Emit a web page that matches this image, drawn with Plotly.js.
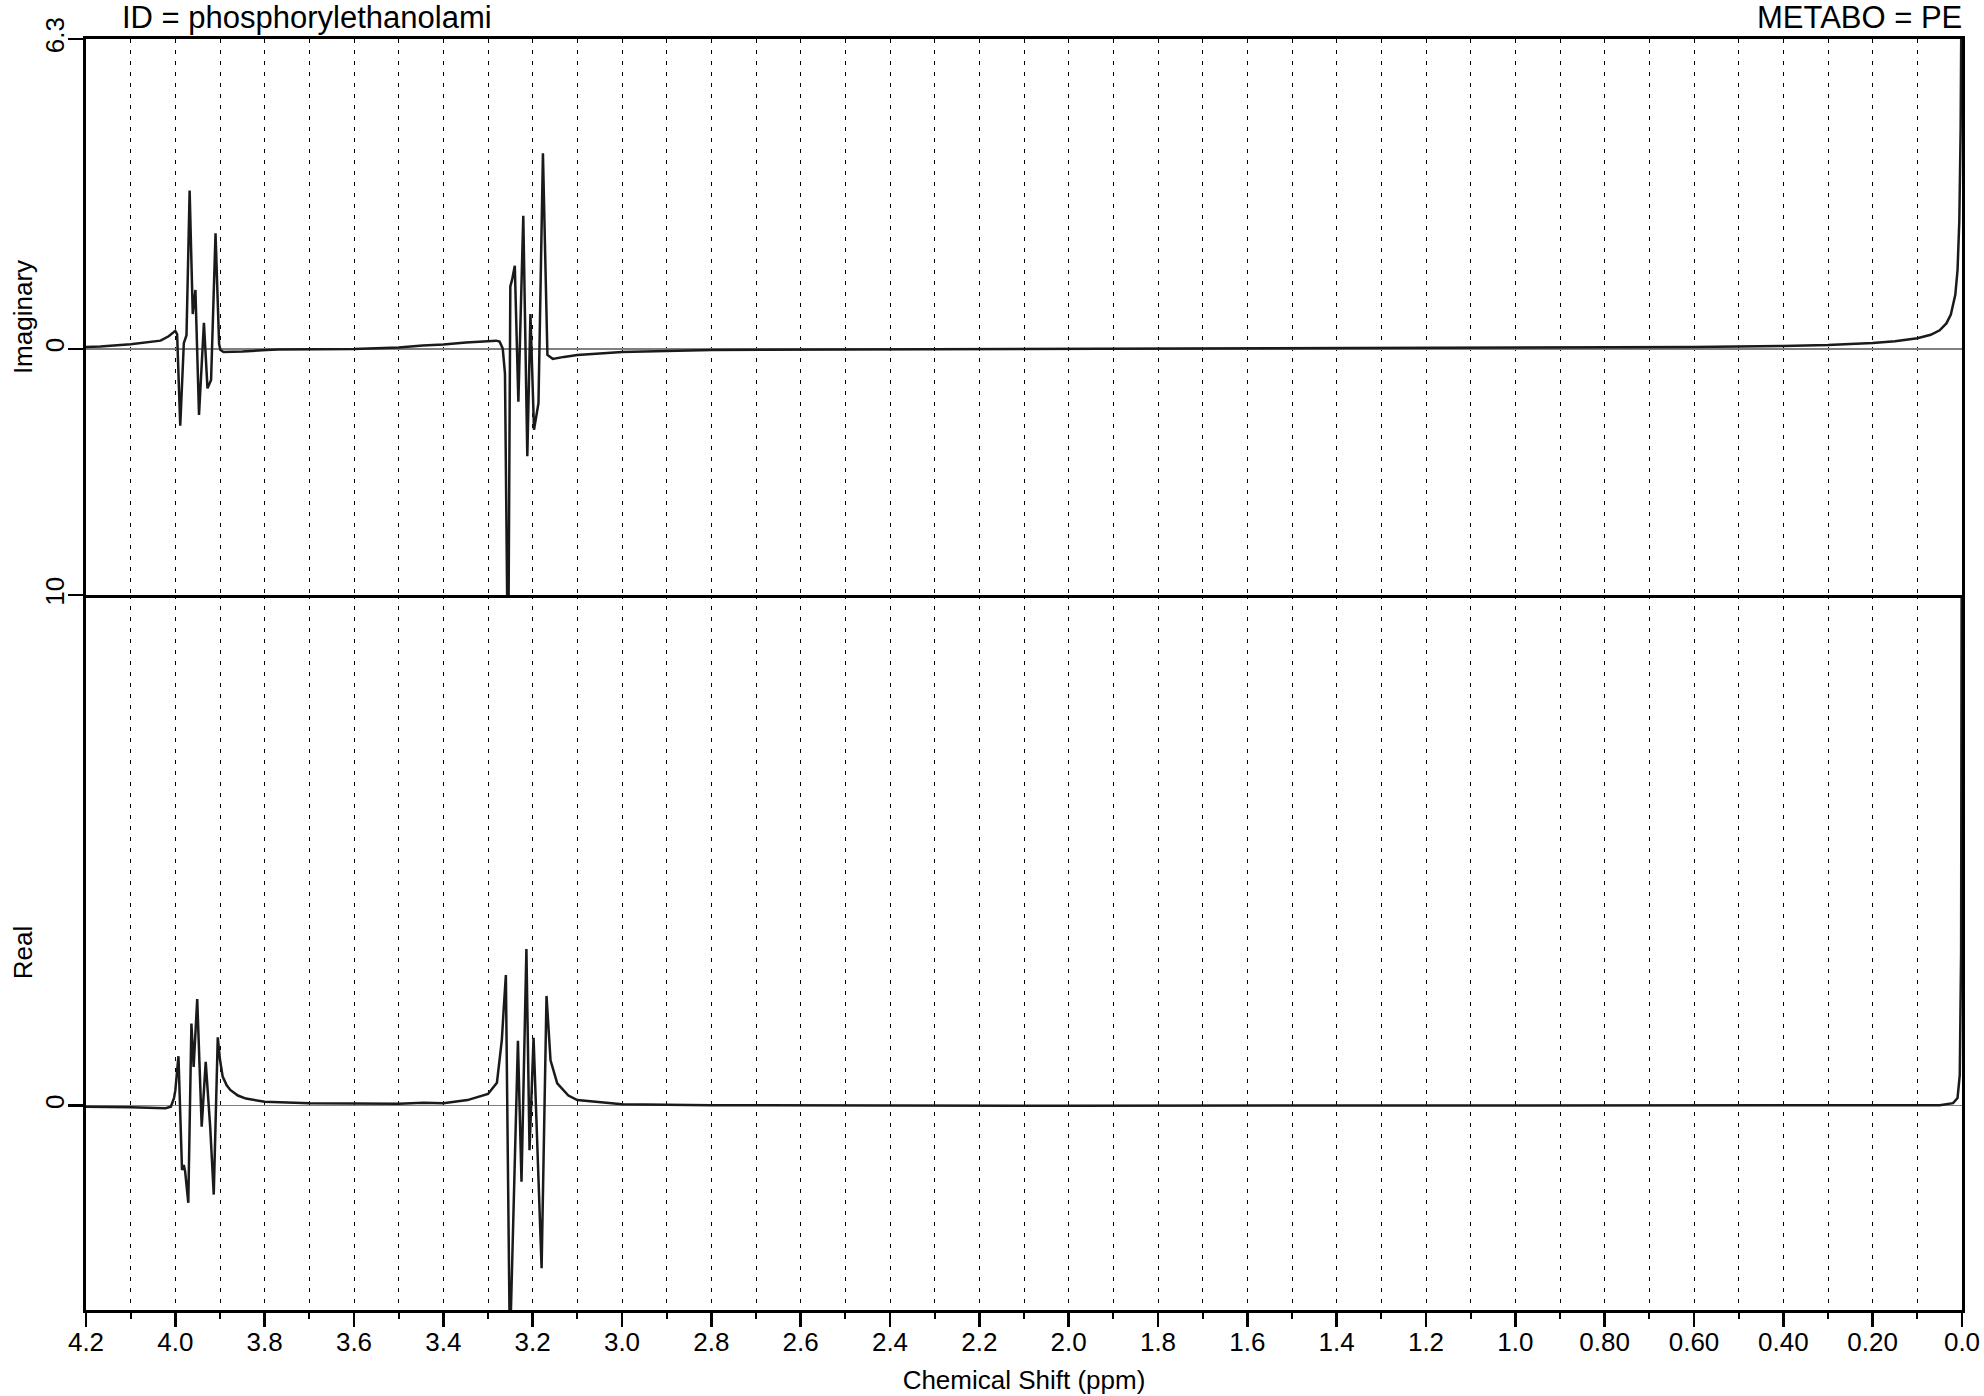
<!DOCTYPE html>
<html>
<head>
<meta charset="utf-8">
<script src="https://cdn.plot.ly/plotly-3.0.1.min.js"></script>
<style>
html, body { margin: 0; padding: 0; background: #ffffff; }
#chart { width: 1984px; height: 1396px; }
</style>
</head>
<body>
<div id="chart"></div>
<script>
// ---- data ----
const imagPpm = [4.20, 4.168, 4.10, 4.033, 4.015, 4.005, 4.000, 3.996, 3.989, 3.981, 3.975, 3.968, 3.961, 3.955, 3.947, 3.936, 3.928, 3.920, 3.910, 3.902, 3.899, 3.892, 3.85, 3.796, 3.77, 3.60, 3.50, 3.446, 3.40, 3.349, 3.30, 3.282, 3.274, 3.267, 3.262, 3.255, 3.250, 3.246, 3.240, 3.232, 3.221, 3.212, 3.205, 3.197, 3.187, 3.177, 3.167, 3.155, 3.13, 3.10, 3.00, 2.80, 2.50, 2.00, 1.50, 1.00, 0.60, 0.40, 0.30, 0.20, 0.15, 0.10, 0.07, 0.05, 0.035, 0.025, 0.015, 0.010, 0.006, 0.003, 0.001, 0.0];
const imagVal = [0.04, 0.05, 0.095, 0.17, 0.26, 0.33, 0.37, 0.30, -1.56, 0.12, 0.28, 3.22, 0.71, 1.20, -1.34, 0.53, -0.80, -0.63, 2.35, 0.10, -0.02, -0.06, -0.05, -0.02, -0.01, 0.0, 0.03, 0.07, 0.09, 0.13, 0.16, 0.17, 0.15, 0.01, -0.5, -7.0, 1.27, 1.41, 1.69, -1.07, 2.71, -2.18, 0.71, -1.64, -1.10, 3.98, -0.12, -0.20, -0.16, -0.12, -0.06, -0.02, -0.01, 0.0, 0.01, 0.02, 0.04, 0.06, 0.08, 0.12, 0.16, 0.22, 0.29, 0.38, 0.52, 0.70, 1.10, 1.60, 2.60, 4.50, 8.0, 9.0];

const realPpm = [4.20, 4.168, 4.10, 4.022, 4.010, 4.003, 4.000, 3.993, 3.985, 3.981, 3.978, 3.971, 3.964, 3.959, 3.951, 3.941, 3.932, 3.922, 3.914, 3.905, 3.900, 3.894, 3.885, 3.877, 3.86, 3.842, 3.80, 3.70, 3.60, 3.50, 3.444, 3.40, 3.346, 3.30, 3.28, 3.269, 3.265, 3.260, 3.251, 3.233, 3.225, 3.214, 3.207, 3.198, 3.180, 3.169, 3.160, 3.145, 3.12, 3.10, 3.00, 2.80, 2.00, 1.00, 0.10, 0.05, 0.02, 0.010, 0.005, 0.002, 0.0];
const realVal = [-0.02, -0.02, -0.03, -0.05, -0.02, 0.15, 0.30, 0.97, -1.26, -1.16, -1.29, -1.90, 1.61, 0.76, 2.09, -0.41, 0.86, -0.41, -1.74, 1.34, 0.90, 0.57, 0.40, 0.31, 0.20, 0.14, 0.08, 0.05, 0.04, 0.04, 0.06, 0.05, 0.11, 0.23, 0.45, 1.29, 1.87, 2.56, -4.8, 1.27, -1.49, 3.07, -0.87, 1.33, -3.18, 2.15, 0.89, 0.44, 0.20, 0.11, 0.03, 0.01, 0.0, 0.0, 0.0, 0.01, 0.05, 0.15, 0.60, 3.0, 15.0];

const xTickVals = [4.2, 4.0, 3.8, 3.6, 3.4, 3.2, 3.0, 2.8, 2.6, 2.4, 2.2, 2.0, 1.8, 1.6, 1.4, 1.2, 1.0, 0.8, 0.6, 0.4, 0.2, 0.0];
const xTickText = ['4.2', '4.0', '3.8', '3.6', '3.4', '3.2', '3.0', '2.8', '2.6', '2.4', '2.2', '2.0', '1.8', '1.6', '1.4', '1.2', '1.0', '0.80', '0.60', '0.40', '0.20', '0.0'];
const xMinorVals = [4.1, 3.9, 3.7, 3.5, 3.3, 3.1, 2.9, 2.7, 2.5, 2.3, 2.1, 1.9, 1.7, 1.5, 1.3, 1.1, 0.9, 0.7, 0.5, 0.3, 0.1];

const titleLeft = 'ID = phosphorylethanolami';
const titleRight = 'METABO = PE';

// ---- chart ----
const FONT = '"Liberation Sans", Arial, Helvetica, sans-serif';
const LINE = '#1a1a1a';

const traces = [
  { x: realPpm, y: realVal, xaxis: 'x', yaxis: 'y', type: 'scatter', mode: 'lines',
    line: { color: LINE, width: 2.5 }, hoverinfo: 'skip', showlegend: false },
  { x: imagPpm, y: imagVal, xaxis: 'x2', yaxis: 'y2', type: 'scatter', mode: 'lines',
    line: { color: LINE, width: 2.5 }, hoverinfo: 'skip', showlegend: false }
];

const gridCommon = { showgrid: true, gridcolor: '#000000', gridwidth: 1, griddash: '4px,7px' };

const layout = {
  width: 1984, height: 1396,
  margin: { l: 86, r: 22, t: 39, b: 86 },
  paper_bgcolor: '#ffffff', plot_bgcolor: '#ffffff',
  font: { family: FONT, size: 26, color: '#000000' },
  showlegend: false,
  title: { text: titleLeft, font: { family: FONT, size: 31, color: '#000000' },
           xref: 'container', x: 122 / 1984, xanchor: 'left',
           yref: 'container', y: 1 - 17 / 1396, yanchor: 'middle' },
  annotations: [
    { text: titleRight, xref: 'paper', yref: 'paper', x: 1.001, y: 1.0173, xanchor: 'right', yanchor: 'middle',
      showarrow: false, font: { family: FONT, size: 31, color: '#000000' } }
  ],
  xaxis: Object.assign({
    domain: [0, 1], anchor: 'y', range: [4.2, 0.0], autorange: false,
    tickmode: 'array', tickvals: xTickVals, ticktext: xTickText,
    ticks: 'outside', ticklen: 14, tickwidth: 2.5, tickcolor: '#000000', ticklabelstandoff: -7,
    tickfont: { family: FONT, size: 26, color: '#000000' },
    minor: { tickmode: 'array', tickvals: xMinorVals, ticks: 'outside', ticklen: 6, tickwidth: 2, tickcolor: '#000000',
             showgrid: true, gridcolor: '#000000', gridwidth: 1, griddash: '4px,7px' },
    showline: true, linecolor: '#000000', linewidth: 3, mirror: false, zeroline: false,
    title: { text: 'Chemical Shift (ppm)', font: { family: FONT, size: 26, color: '#000000' }, standoff: 15 }
  }, gridCommon),
  xaxis2: Object.assign({
    domain: [0, 1], anchor: 'y2', matches: 'x', range: [4.2, 0.0], autorange: false,
    tickmode: 'array', tickvals: xTickVals, showticklabels: false, ticks: '',
    minor: { tickmode: 'array', tickvals: xMinorVals, ticks: '',
             showgrid: true, gridcolor: '#000000', gridwidth: 1, griddash: '4px,7px' },
    showline: true, linecolor: '#000000', linewidth: 3, mirror: true, zeroline: false
  }, gridCommon),
  yaxis: {
    domain: [0, 0.5625], anchor: 'x', range: [-4, 10], autorange: false,
    tickmode: 'array', tickvals: [0, 10], ticktext: ['0', '10'],
    ticks: 'outside', ticklen: 15, tickwidth: 2.5, tickcolor: '#000000', tickangle: -90, ticklabelstandoff: -6,
    tickfont: { family: FONT, size: 26, color: '#000000' },
    showline: true, linecolor: '#000000', linewidth: 3, mirror: true,
    showgrid: false, zeroline: true, zerolinecolor: '#808080', zerolinewidth: 1.5,
    title: { text: 'Real', font: { family: FONT, size: 26, color: '#000000' }, standoff: 0 }
  },
  yaxis2: {
    domain: [0.5625, 1], anchor: 'x2', range: [-5, 6.3], autorange: false,
    tickmode: 'array', tickvals: [0, 6.3], ticktext: ['0', '6.3'],
    ticks: 'outside', ticklen: 15, tickwidth: 2.5, tickcolor: '#000000', tickangle: -90, ticklabelstandoff: -6,
    tickfont: { family: FONT, size: 26, color: '#000000' },
    showline: true, linecolor: '#000000', linewidth: 3, mirror: true,
    showgrid: false, zeroline: true, zerolinecolor: '#808080', zerolinewidth: 1.5,
    title: { text: 'Imaginary', font: { family: FONT, size: 26, color: '#000000' }, standoff: 0 }
  }
};

Plotly.newPlot('chart', traces, layout, { displayModeBar: false, staticPlot: true });
</script>
</body>
</html>
